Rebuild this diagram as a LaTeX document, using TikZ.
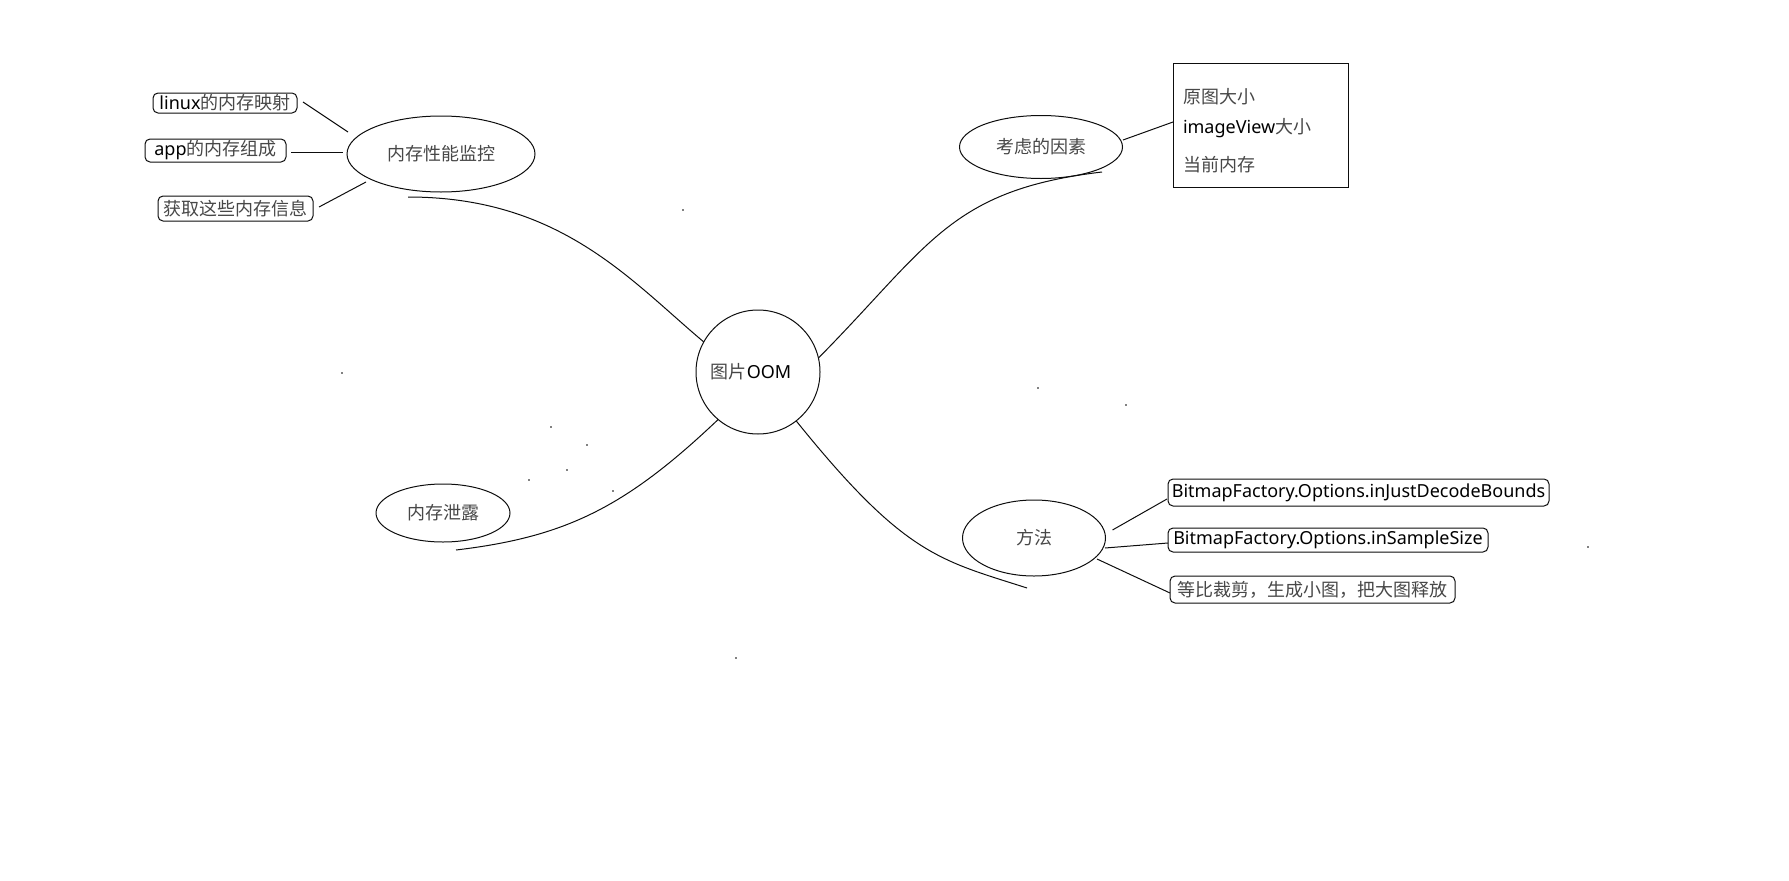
\documentclass[tikz,border=0pt]{standalone}
\usepackage{fontspec}
\setmainfont{Noto Sans}
\newfontfamily\cjk{Noto Sans CJK SC}
\usetikzlibrary{shapes.geometric}
\definecolor{zhgray}{gray}{0.28}
\definecolor{lnk}{gray}{0.05}
\newcommand{\zh}[1]{{\cjk\color{zhgray}#1}}
\tikzset{
  every node/.style={inner sep=0pt, outer sep=0pt, font=\fontsize{18}{22}\selectfont},
  oval/.style={draw=lnk, ellipse, line width=1pt},
  hub/.style={draw=lnk, circle, line width=1pt, minimum size=124pt},
  tag/.style={draw=lnk, rectangle, rounded corners=5pt, line width=1pt},
  plainbox/.style={draw=lnk, rectangle, line width=1pt},
  leftlabel/.style={anchor=west},
  link/.style={draw=lnk, line width=1pt},
  speck/.style={fill=black},
}
\begin{document}
\begin{tikzpicture}[x=1pt,y=-1pt]
\path[use as bounding box] (0,0) rectangle (1789,881);

% central node
\node[hub] (root) at (758,372) {\hspace*{-14pt}\zh{图片}OOM};

% upper-left branch
\node[oval, minimum width=188pt, minimum height=76pt] (mon) at (441,154) {\zh{内存性能监控}};
\node[tag, minimum width=144pt, minimum height=20pt] (linux) at (225,103) {linux\zh{的内存映射}};
\node[tag, minimum width=141pt, minimum height=23pt] (app) at (215.5,150.5) {app\zh{的内存组成}};
\node[tag, minimum width=155pt, minimum height=25pt] (get) at (235.5,208.5) {\zh{获取这些内存信息}};

% upper-right branch
\node[oval, minimum width=163pt, minimum height=63pt] (factor) at (1041,147) {\zh{考虑的因素}};
\node[plainbox, minimum width=175pt, minimum height=124pt] (fbox) at (1260.5,125) {};
\node[leftlabel] (f1) at (1183,97) {\zh{原图大小}};
\node[leftlabel] (f2) at (1183,128) {imageView\zh{大小}};
\node[leftlabel] (f3) at (1183,165) {\zh{当前内存}};

% lower-left branch
\node[oval, minimum width=134pt, minimum height=58pt] (leak) at (443,513) {\zh{内存泄露}};

% lower-right branch
\node[oval, minimum width=143pt, minimum height=76pt] (method) at (1034,538) {\zh{方法}};
\node[tag, minimum width=381pt, minimum height=27pt] (b1) at (1358.5,492.5) {BitmapFactory.Options.inJustDecodeBounds};
\node[tag, minimum width=320pt, minimum height=24pt] (b2) at (1328,540) {BitmapFactory.Options.inSampleSize};
\node[tag, minimum width=285pt, minimum height=27pt] (b3) at (1312.5,589.5) {\zh{等比裁剪，生成小图，把大图释放}};

% free connector ends
\coordinate (l1a) at (303,102);  \coordinate (l1b) at (348,132);
\coordinate (l2a) at (291,152);  \coordinate (l2b) at (343,152);
\coordinate (l3a) at (319,207);  \coordinate (l3b) at (366,182);
\coordinate (f1a) at (1123,140); \coordinate (f1b) at (1173,122);
\coordinate (m1a) at (1112.5,530); \coordinate (m1b) at (1167,499);
\coordinate (m2a) at (1105,548); \coordinate (m2b) at (1168,543);
\coordinate (m3a) at (1097,559); \coordinate (m3b) at (1170,593);
\coordinate (c1a) at (408,197);
\coordinate (c2b) at (1102,172);
\coordinate (c3b) at (456,550);
\coordinate (c4b) at (1027,588);

% short connectors
\draw[link] (l1a) -- (l1b);
\draw[link] (l2a) -- (l2b);
\draw[link] (l3a) -- (l3b);
\draw[link] (f1a) -- (f1b);
\draw[link] (m1a) -- (m1b);
\draw[link] (m2a) -- (m2b);
\draw[link] (m3a) -- (m3b);

% main curves
\draw[link] (c1a) .. controls (560,197) and (630,280) .. (root.151);
\draw[link] (root.13) .. controls (930,245) and (950,190) .. (c2b);
\draw[link] (root.230) .. controls (625,508) and (565,537) .. (c3b);
\draw[link] (root.-52) .. controls (905,556) and (940,560) .. (c4b);

% stray specks
\foreach \p in {(683,210),(342,373),(1038,388),(1126,405),(736,658),(1588,547),(551,427),(587,445),(567,470),(529,480),(613,491)}
  \fill[speck] \p circle (0.9pt);
\end{tikzpicture}
\end{document}
